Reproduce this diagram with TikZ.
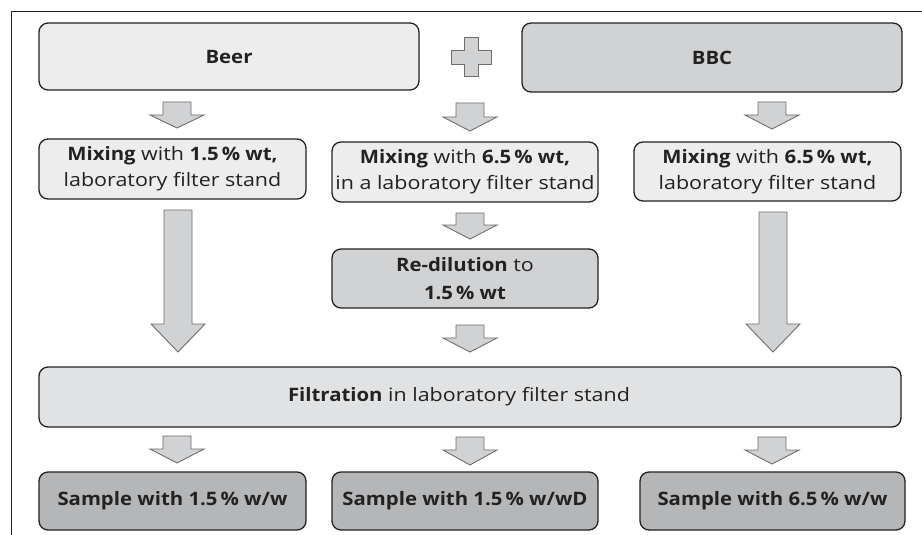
\documentclass[tikz,border=0pt]{standalone}
\usepackage{fontspec}
\setmainfont{Open Sans}[UprightFeatures={FakeStretch=1.16},BoldFeatures={FakeStretch=1.1}]
\definecolor{lightfill}{HTML}{EDEDED}
\definecolor{midfill}{HTML}{D1D2D4}
\definecolor{filtfill}{HTML}{E1E2E3}
\definecolor{darkfill}{HTML}{B5B6B8}
\definecolor{arrowfill}{HTML}{D1D2D4}
\definecolor{arrowline}{HTML}{6E6E6E}
\definecolor{ink}{HTML}{222222}
\newcommand\blockarrow[6]{%
  \draw[barrow] ({#1-#5},#2) -- ({#1+#5},#2) -- ({#1+#5},#3) -- ({#1+#6},#3)
    -- (#1,#4) -- ({#1-#6},#3) -- ({#1-#5},#3) -- cycle;}
\begin{document}
\begin{tikzpicture}[x=1pt,y=-1pt,
  base/.style={draw=ink, line width=1.3pt, rounded corners=9pt, inner sep=0pt,
    align=center, text=ink, font=\fontsize{18.5}{26}\selectfont},
  lightbox/.style={base, fill=lightfill},
  midbox/.style={base, fill=midfill},
  filtbox/.style={base, fill=filtfill},
  darkbox/.style={base, fill=darkfill},
  barrow/.style={draw=arrowline, fill=arrowfill, line width=0.9pt, line join=miter}]
\useasboundingbox[fill=white] (0,0) rectangle (922,535);
\draw[line width=1pt, ink] (11,535) -- (11,12) -- (922,12);
% boxes
\node[lightbox, minimum width=380pt, minimum height=67pt] (beer) at (229,56.5) {\textbf{Beer}};
\node[midbox, minimum width=380pt, minimum height=69pt] (bbc) at (712,57.5) {\textbf{BBC}};
\node[lightbox, minimum width=267pt, minimum height=60pt] (m1) at (172.5,169)
  {\textbf{Mixing} with \textbf{1.5\,\% wt,}\\laboratory filter stand};
\node[lightbox, minimum width=266pt, minimum height=60pt] (m2) at (465,172)
  {\textbf{Mixing} with \textbf{6.5\,\% wt,}\\in a laboratory filter stand};
\node[lightbox, minimum width=267pt, minimum height=59pt] (m3) at (767.5,171.5)
  {\textbf{Mixing} with \textbf{6.5\,\% wt,}\\laboratory filter stand};
\node[midbox, minimum width=266pt, minimum height=59pt, font=\fontsize{18.5}{28}\selectfont] (redil) at (465,278.5)
  {\textbf{Re-dilution} to\\\textbf{1.5\,\% wt}};
\node[filtbox, minimum width=862pt, minimum height=60pt] (filt) at (470,397) {};
\node[text=ink, font=\fontsize{18.5}{26}\selectfont, inner sep=0pt] (filttext) at (459,397)
  {\textbf{Filtration} in laboratory filter stand};
\node[darkbox, minimum width=267pt, minimum height=58pt] (s1) at (172.5,501)
  {\textbf{Sample with 1.5\,\% w/w}};
\node[darkbox, minimum width=266pt, minimum height=58pt] (s2) at (465,501)
  {\textbf{Sample with 1.5\,\% w/wD}};
\node[darkbox, minimum width=265pt, minimum height=58pt] (s3) at (772.5,501)
  {\textbf{Sample with 6.5\,\% w/w}};
% plus sign
\draw[barrow] (464,37) -- (478,37) -- (478,50) -- (491,50) -- (491,64) -- (478,64)
  -- (478,76) -- (464,76) -- (464,64) -- (451,64) -- (451,50) -- (464,50) -- cycle;
% block arrows
\blockarrow{177}{102}{115}{128}{14}{27}
\blockarrow{470}{103}{117}{131}{14}{27}
\blockarrow{772}{102}{115}{129}{14}{27}
\blockarrow{178}{210}{324}{352}{14}{27}
\blockarrow{773}{212}{324}{352}{14}{27}
\blockarrow{470}{213}{225}{239}{14}{27}
\blockarrow{470}{325}{338}{352}{14}{27}
\blockarrow{177}{436}{449}{463}{14}{27}
\blockarrow{470}{437}{450}{465}{14}{27}
\blockarrow{772}{437}{450}{464}{14}{27}
\end{tikzpicture}
\end{document}
